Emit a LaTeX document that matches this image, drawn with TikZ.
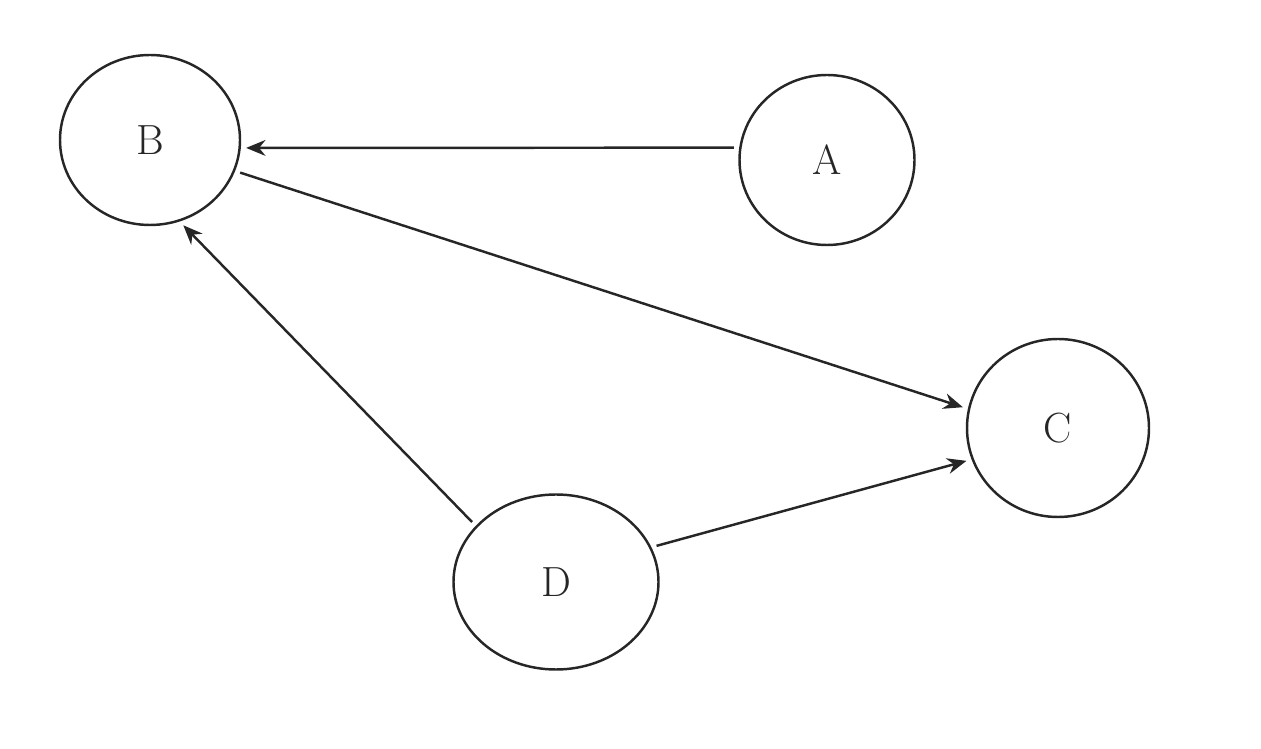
\documentclass[tikz,border=0pt]{standalone}
\usetikzlibrary{shapes.geometric,arrows.meta}
\begin{document}
\begin{tikzpicture}[%
    ->,
    >={Stealth[length=11pt,width=9pt]},
    line width=1.4pt,
    color=black!85,
    shorten >=3pt,
    shorten <=3pt,
    vertex/.style={%
      ellipse,
      draw,
      inner sep=0pt,
      font=\fontsize{24}{28}\selectfont}
    ]
    \useasboundingbox (0,0) rectangle (25.22,14.98);
    \node[vertex,minimum width=3.6cm,minimum height=3.4cm] (B) at (3.0,12.18) {B};
    \node[vertex,minimum width=3.5cm,minimum height=3.4cm] (A) at (16.54,11.78) {A};
    \node[vertex,minimum width=3.64cm,minimum height=3.56cm] (C) at (21.16,6.42) {C};
    \node[vertex,minimum width=4.1cm,minimum height=3.5cm] (D) at (11.12,3.34) {D};
    \path (A.172) edge node{} (B.-5)
          (B.-20) edge node{} (C.168)
          (D.145) edge node{} (B.-70)
          (D.20) edge node{} (C.200);
  \end{tikzpicture}
\end{document}
